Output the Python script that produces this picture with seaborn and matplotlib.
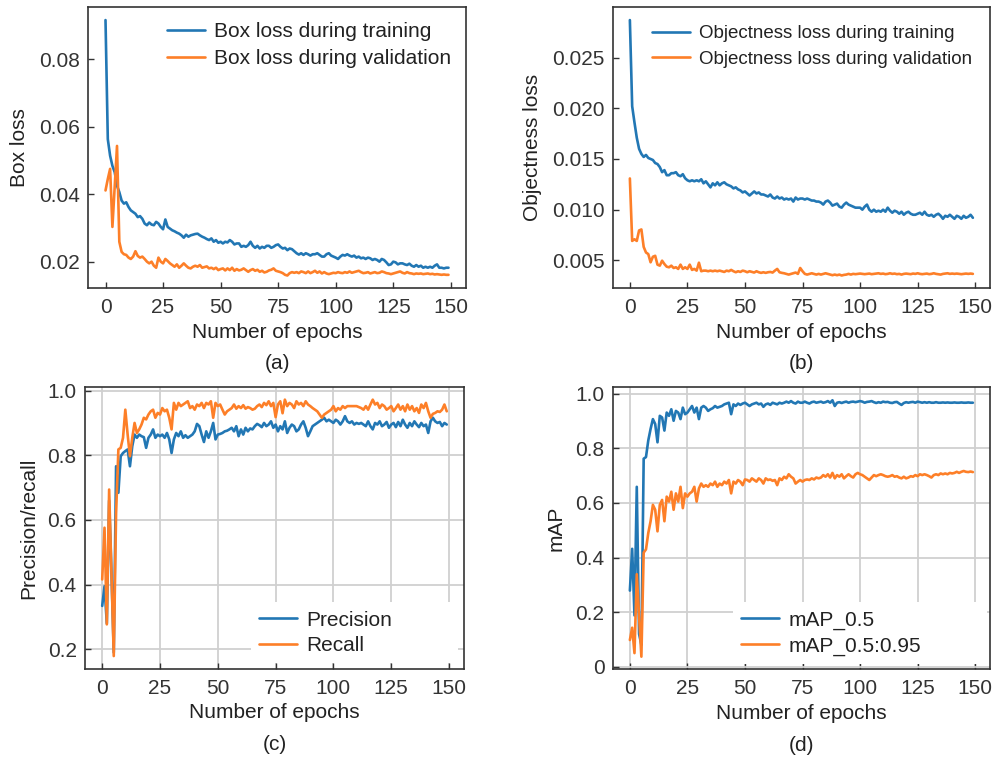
import numpy as np
import seaborn as sns
import matplotlib
matplotlib.use("Agg")
import matplotlib.pyplot as plt

# training curves (150 epochs)
epochs = np.arange(150)

box_train = [
    0.0916, 0.0563, 0.0514, 0.0484, 0.0465, 0.0425, 0.0406, 0.0381, 0.0372, 0.0376,
    0.0362, 0.0352, 0.0347, 0.0342, 0.0332, 0.0335, 0.0327, 0.0313, 0.0308, 0.0316,
    0.0310, 0.0308, 0.0318, 0.0313, 0.0303, 0.0296, 0.0325, 0.0303, 0.0298, 0.0293,
    0.0290, 0.0286, 0.0283, 0.0278, 0.0271, 0.0280, 0.0274, 0.0278, 0.0280, 0.0282,
    0.0283, 0.0278, 0.0274, 0.0271, 0.0267, 0.0264, 0.0269, 0.0259, 0.0264, 0.0256,
    0.0259, 0.0254, 0.0259, 0.0257, 0.0264, 0.0259, 0.0251, 0.0254, 0.0254, 0.0244,
    0.0247, 0.0244, 0.0249, 0.0259, 0.0247, 0.0241, 0.0247, 0.0239, 0.0244, 0.0241,
    0.0247, 0.0247, 0.0241, 0.0244, 0.0249, 0.0251, 0.0244, 0.0239, 0.0241, 0.0234,
    0.0239, 0.0237, 0.0231, 0.0225, 0.0221, 0.0225, 0.0220, 0.0225, 0.0222, 0.0218,
    0.0222, 0.0222, 0.0225, 0.0220, 0.0215, 0.0215, 0.0222, 0.0225, 0.0218, 0.0215,
    0.0212, 0.0208, 0.0215, 0.0220, 0.0218, 0.0222, 0.0218, 0.0215, 0.0218, 0.0212,
    0.0215, 0.0210, 0.0212, 0.0208, 0.0212, 0.0210, 0.0205, 0.0208, 0.0205, 0.0200,
    0.0208, 0.0205, 0.0198, 0.0190, 0.0192, 0.0200, 0.0198, 0.0192, 0.0195, 0.0195,
    0.0192, 0.0190, 0.0194, 0.0188, 0.0185, 0.0190, 0.0185, 0.0188, 0.0182, 0.0185,
    0.0182, 0.0185, 0.0182, 0.0188, 0.0192, 0.0182, 0.0182, 0.0180, 0.0182, 0.0182,
]
box_val = [
    0.0411, 0.0445, 0.0475, 0.0303, 0.0424, 0.0543, 0.0259, 0.0229, 0.0222, 0.0220,
    0.0212, 0.0208, 0.0215, 0.0231, 0.0217, 0.0212, 0.0215, 0.0208, 0.0200, 0.0195,
    0.0200, 0.0188, 0.0182, 0.0212, 0.0200, 0.0195, 0.0208, 0.0202, 0.0195, 0.0190,
    0.0185, 0.0192, 0.0182, 0.0188, 0.0195, 0.0188, 0.0182, 0.0180, 0.0185, 0.0188,
    0.0185, 0.0190, 0.0182, 0.0184, 0.0186, 0.0180, 0.0182, 0.0178, 0.0182, 0.0175,
    0.0178, 0.0180, 0.0174, 0.0180, 0.0175, 0.0182, 0.0173, 0.0178, 0.0174, 0.0176,
    0.0180, 0.0175, 0.0170, 0.0175, 0.0178, 0.0173, 0.0176, 0.0170, 0.0173, 0.0168,
    0.0170, 0.0174, 0.0176, 0.0180, 0.0173, 0.0171, 0.0169, 0.0166, 0.0161, 0.0159,
    0.0166, 0.0169, 0.0167, 0.0169, 0.0166, 0.0171, 0.0169, 0.0166, 0.0171, 0.0166,
    0.0169, 0.0173, 0.0167, 0.0171, 0.0165, 0.0169, 0.0165, 0.0163, 0.0165, 0.0167,
    0.0166, 0.0169, 0.0167, 0.0166, 0.0169, 0.0167, 0.0171, 0.0167, 0.0169, 0.0171,
    0.0173, 0.0169, 0.0166, 0.0167, 0.0169, 0.0165, 0.0167, 0.0169, 0.0166, 0.0167,
    0.0171, 0.0169, 0.0166, 0.0165, 0.0163, 0.0165, 0.0167, 0.0169, 0.0171, 0.0167,
    0.0165, 0.0169, 0.0166, 0.0165, 0.0163, 0.0165, 0.0164, 0.0165, 0.0163, 0.0164,
    0.0165, 0.0163, 0.0164, 0.0162, 0.0163, 0.0162, 0.0161, 0.0162, 0.0161, 0.0161,
]

obj_train = [
    0.0287, 0.0202, 0.0186, 0.0171, 0.0160, 0.0155, 0.0152, 0.0154, 0.0151, 0.0150,
    0.0149, 0.0146, 0.0145, 0.0142, 0.0137, 0.0139, 0.0134, 0.0134, 0.0136, 0.0136,
    0.0137, 0.0134, 0.0133, 0.0135, 0.0131, 0.0129, 0.0128, 0.0129, 0.0128, 0.0129,
    0.0128, 0.0130, 0.0126, 0.0128, 0.0125, 0.0122, 0.0126, 0.0124, 0.0127, 0.0124,
    0.0126, 0.0127, 0.0125, 0.0124, 0.0123, 0.0121, 0.0122, 0.0120, 0.0119, 0.0117,
    0.0118, 0.0116, 0.0114, 0.0116, 0.0118, 0.0116, 0.0117, 0.0115, 0.0115, 0.0114,
    0.0113, 0.0115, 0.0112, 0.0111, 0.0113, 0.0111, 0.0112, 0.0110, 0.0111, 0.0110,
    0.0111, 0.0108, 0.0112, 0.0110, 0.0111, 0.0111, 0.0110, 0.0111, 0.0110, 0.0109,
    0.0109, 0.0108, 0.0108, 0.0107, 0.0105, 0.0108, 0.0109, 0.0107, 0.0104, 0.0105,
    0.0106, 0.0103, 0.0102, 0.0105, 0.0107, 0.0105, 0.0104, 0.0103, 0.0102, 0.0102,
    0.0102, 0.0100, 0.0103, 0.0105, 0.0100, 0.0098, 0.0100, 0.0098, 0.0099, 0.0098,
    0.0100, 0.0098, 0.0102, 0.0099, 0.0097, 0.0099, 0.0098, 0.0096, 0.0098, 0.0095,
    0.0097, 0.0098, 0.0096, 0.0095, 0.0095, 0.0096, 0.0097, 0.0095, 0.0098, 0.0095,
    0.0094, 0.0095, 0.0093, 0.0095, 0.0096, 0.0094, 0.0091, 0.0094, 0.0093, 0.0095,
    0.0093, 0.0091, 0.0094, 0.0093, 0.0091, 0.0094, 0.0092, 0.0093, 0.0095, 0.0092,
]
obj_val = [
    0.01308, 0.00692, 0.00708, 0.00692, 0.00795, 0.00805, 0.00633, 0.00578, 0.00562, 0.00481,
    0.00536, 0.00545, 0.00458, 0.00448, 0.00497, 0.00464, 0.00438, 0.00432, 0.00448, 0.00425,
    0.00432, 0.00416, 0.00458, 0.00416, 0.00432, 0.00416, 0.00458, 0.00406, 0.00416, 0.00399,
    0.00477, 0.00393, 0.00399, 0.00399, 0.00393, 0.00399, 0.00393, 0.00399, 0.00393, 0.00399,
    0.00393, 0.00386, 0.00399, 0.00393, 0.00406, 0.00393, 0.00383, 0.00393, 0.00386, 0.00399,
    0.00393, 0.00383, 0.00393, 0.00386, 0.00380, 0.00393, 0.00383, 0.00377, 0.00383, 0.00377,
    0.00383, 0.00386, 0.00380, 0.00399, 0.00416, 0.00383, 0.00377, 0.00373, 0.00367, 0.00360,
    0.00367, 0.00373, 0.00380, 0.00367, 0.00425, 0.00393, 0.00367, 0.00360, 0.00367, 0.00373,
    0.00367, 0.00360, 0.00367, 0.00360, 0.00367, 0.00373, 0.00367, 0.00360, 0.00354, 0.00360,
    0.00354, 0.00360, 0.00351, 0.00357, 0.00360, 0.00367, 0.00360, 0.00367, 0.00364, 0.00367,
    0.00370, 0.00367, 0.00364, 0.00367, 0.00370, 0.00364, 0.00367, 0.00370, 0.00373, 0.00367,
    0.00370, 0.00364, 0.00367, 0.00373, 0.00367, 0.00370, 0.00364, 0.00367, 0.00360, 0.00367,
    0.00370, 0.00367, 0.00364, 0.00370, 0.00367, 0.00373, 0.00367, 0.00364, 0.00367, 0.00370,
    0.00364, 0.00367, 0.00373, 0.00367, 0.00364, 0.00360, 0.00367, 0.00370, 0.00373, 0.00367,
    0.00370, 0.00367, 0.00370, 0.00367, 0.00364, 0.00367, 0.00370, 0.00367, 0.00370, 0.00367,
]

precision = [
    0.334, 0.395, 0.280, 0.660, 0.440, 0.190, 0.766, 0.684, 0.797, 0.807,
    0.813, 0.818, 0.766, 0.828, 0.864, 0.854, 0.864, 0.859, 0.856, 0.823,
    0.854, 0.864, 0.880, 0.854, 0.864, 0.859, 0.864, 0.854, 0.869, 0.849,
    0.807, 0.849, 0.869, 0.859, 0.874, 0.854, 0.862, 0.854, 0.859, 0.864,
    0.874, 0.897, 0.890, 0.864, 0.841, 0.874, 0.854, 0.874, 0.900, 0.849,
    0.864, 0.866, 0.869, 0.874, 0.876, 0.880, 0.885, 0.874, 0.890, 0.859,
    0.880, 0.864, 0.885, 0.874, 0.883, 0.880, 0.890, 0.897, 0.893, 0.887,
    0.900, 0.890, 0.895, 0.905, 0.885, 0.895, 0.874, 0.890, 0.880, 0.905,
    0.869, 0.885, 0.895, 0.890, 0.874, 0.880, 0.895, 0.905, 0.885, 0.859,
    0.874, 0.890, 0.895, 0.900, 0.905, 0.910, 0.916, 0.905, 0.910, 0.905,
    0.900, 0.910, 0.905, 0.895, 0.905, 0.921, 0.905, 0.900, 0.905, 0.895,
    0.900, 0.897, 0.900, 0.895, 0.890, 0.905, 0.890, 0.880, 0.900, 0.895,
    0.905, 0.890, 0.895, 0.903, 0.885, 0.895, 0.900, 0.887, 0.903, 0.890,
    0.910, 0.895, 0.885, 0.900, 0.890, 0.905, 0.895, 0.887, 0.900, 0.890,
    0.895, 0.869, 0.905, 0.916, 0.905, 0.900, 0.903, 0.890, 0.900, 0.895,
]
recall = [
    0.416, 0.576, 0.277, 0.694, 0.437, 0.179, 0.620, 0.818, 0.823, 0.854,
    0.941, 0.864, 0.797, 0.854, 0.900, 0.869, 0.880, 0.895, 0.916, 0.911,
    0.926, 0.936, 0.941, 0.916, 0.931, 0.926, 0.946, 0.936, 0.941, 0.916,
    0.880, 0.962, 0.941, 0.962, 0.952, 0.957, 0.962, 0.967, 0.946, 0.952,
    0.941, 0.957, 0.952, 0.962, 0.946, 0.962, 0.957, 0.967, 0.916, 0.962,
    0.952, 0.957, 0.941, 0.926, 0.936, 0.941, 0.946, 0.957, 0.944, 0.952,
    0.946, 0.955, 0.944, 0.949, 0.946, 0.941, 0.944, 0.952, 0.957, 0.949,
    0.962, 0.955, 0.967, 0.952, 0.962, 0.918, 0.957, 0.967, 0.930, 0.972,
    0.952, 0.962, 0.957, 0.946, 0.967, 0.957, 0.962, 0.952, 0.967, 0.957,
    0.952, 0.946, 0.941, 0.936, 0.926, 0.916, 0.926, 0.931, 0.936, 0.941,
    0.952, 0.936, 0.946, 0.941, 0.952, 0.946, 0.952, 0.952, 0.952, 0.952,
    0.952, 0.949, 0.946, 0.941, 0.952, 0.941, 0.957, 0.972, 0.957, 0.962,
    0.946, 0.957, 0.952, 0.941, 0.946, 0.952, 0.936, 0.946, 0.957, 0.941,
    0.952, 0.936, 0.957, 0.941, 0.952, 0.936, 0.946, 0.931, 0.957, 0.946,
    0.962, 0.936, 0.916, 0.928, 0.931, 0.936, 0.934, 0.941, 0.957, 0.936,
]

map50 = [
    0.279, 0.432, 0.188, 0.659, 0.120, 0.080, 0.762, 0.768, 0.829, 0.871,
    0.907, 0.889, 0.822, 0.919, 0.913, 0.865, 0.931, 0.919, 0.943, 0.901,
    0.937, 0.931, 0.907, 0.949, 0.925, 0.931, 0.943, 0.955, 0.931, 0.949,
    0.907, 0.949, 0.955, 0.949, 0.937, 0.943, 0.947, 0.955, 0.949, 0.952,
    0.955, 0.961, 0.964, 0.967, 0.925, 0.961, 0.955, 0.964, 0.959, 0.964,
    0.967, 0.961, 0.955, 0.961, 0.964, 0.967, 0.961, 0.964, 0.952, 0.961,
    0.964, 0.959, 0.967, 0.964, 0.961, 0.967, 0.964, 0.967, 0.971, 0.967,
    0.973, 0.967, 0.964, 0.971, 0.967, 0.967, 0.971, 0.967, 0.964, 0.969,
    0.971, 0.967, 0.969, 0.971, 0.967, 0.969, 0.973, 0.967, 0.976, 0.955,
    0.967, 0.969, 0.966, 0.969, 0.971, 0.967, 0.970, 0.971, 0.969, 0.971,
    0.973, 0.971, 0.967, 0.970, 0.971, 0.973, 0.969, 0.966, 0.969, 0.967,
    0.971, 0.969, 0.970, 0.967, 0.966, 0.969, 0.970, 0.964, 0.959, 0.966,
    0.969, 0.967, 0.969, 0.970, 0.967, 0.971, 0.969, 0.967, 0.969, 0.967,
    0.969, 0.967, 0.967, 0.969, 0.967, 0.967, 0.968, 0.967, 0.968, 0.967,
    0.967, 0.968, 0.967, 0.967, 0.968, 0.967, 0.967, 0.968, 0.967, 0.967,
]
map50_95 = [
    0.098, 0.143, 0.050, 0.339, 0.188, 0.037, 0.418, 0.430, 0.490, 0.533,
    0.593, 0.575, 0.496, 0.593, 0.611, 0.533, 0.623, 0.605, 0.641, 0.575,
    0.635, 0.605, 0.659, 0.581, 0.635, 0.623, 0.635, 0.641, 0.659, 0.605,
    0.653, 0.671, 0.659, 0.665, 0.659, 0.671, 0.665, 0.678, 0.659, 0.671,
    0.665, 0.678, 0.671, 0.684, 0.635, 0.678, 0.671, 0.684, 0.678, 0.665,
    0.686, 0.684, 0.678, 0.690, 0.684, 0.678, 0.690, 0.684, 0.671, 0.690,
    0.684, 0.686, 0.681, 0.684, 0.665, 0.690, 0.684, 0.696, 0.690, 0.705,
    0.696, 0.690, 0.671, 0.678, 0.684, 0.678, 0.684, 0.686, 0.684, 0.690,
    0.686, 0.693, 0.690, 0.693, 0.702, 0.696, 0.705, 0.693, 0.710, 0.690,
    0.702, 0.696, 0.705, 0.690, 0.698, 0.705, 0.698, 0.693, 0.705, 0.710,
    0.705, 0.702, 0.696, 0.690, 0.684, 0.693, 0.702, 0.698, 0.702, 0.705,
    0.702, 0.698, 0.696, 0.698, 0.702, 0.696, 0.698, 0.693, 0.690, 0.696,
    0.690, 0.693, 0.698, 0.696, 0.702, 0.698, 0.705, 0.702, 0.705, 0.702,
    0.698, 0.693, 0.702, 0.705, 0.702, 0.708, 0.705, 0.708, 0.705, 0.710,
    0.708, 0.710, 0.714, 0.710, 0.714, 0.717, 0.714, 0.713, 0.715, 0.713,
]

xticks = [0, 25, 50, 75, 100, 125, 150]
map_yticks = [0, 0.2, 0.4, 0.6, 0.8, 1.0]
map_yticklabels = ["0", "0.2", "0.4", "0.6", "0.8", "1.0"]

BLUE = "#2277b4"
ORANGE = "#fd7f28"

sns.set_theme(style="ticks", rc={
    "xtick.direction": "in",
    "ytick.direction": "in",
    "xtick.major.size": 4,
    "ytick.major.size": 4,
    "xtick.major.width": 1.0,
    "ytick.major.width": 1.0,
    "xtick.major.pad": 7,
    "ytick.major.pad": 6,
    "axes.linewidth": 1.2,
    "axes.edgecolor": "#333333",
    "font.size": 15,
    "axes.labelsize": 15,
    "xtick.labelsize": 15,
    "ytick.labelsize": 15,
    "legend.fontsize": 15,
    "text.color": "#222222",
    "axes.labelcolor": "#222222",
    "xtick.color": "#333333",
    "ytick.color": "#333333",
})
plt.rcParams["font.family"] = ["Liberation Sans", "DejaVu Sans"]

fig = plt.figure(figsize=(9.95, 7.6), dpi=100)
ax_a = fig.add_axes([0.0888, 0.6207, 0.3792, 0.3697])
ax_b = fig.add_axes([0.6158, 0.6207, 0.3792, 0.3697])
ax_c = fig.add_axes([0.0854, 0.1199, 0.3809, 0.3711])
ax_d = fig.add_axes([0.6158, 0.1191, 0.3792, 0.3711])


def draw_pair(ax, y1, y2, lab1, lab2):
    sns.lineplot(x=epochs, y=y1, ax=ax, color=BLUE, lw=1.9, label=lab1)
    sns.lineplot(x=epochs, y=y2, ax=ax, color=ORANGE, lw=1.9, label=lab2)
    ax.set_xticks(xticks)
    ax.set_xlabel("Number of epochs", labelpad=4)


draw_pair(ax_a, box_train, box_val, "Box loss during training", "Box loss during validation")
ax_a.set_ylabel("Box loss", labelpad=7)
ax_a.legend(loc="upper right", frameon=False, fontsize=15, handlelength=1.8,
            handletextpad=0.45, labelspacing=0.4, borderaxespad=0.3)

draw_pair(ax_b, obj_train, obj_val, "Objectness loss during training",
          "Objectness loss during validation")
ax_b.set_ylabel("Objectness loss", labelpad=7)
ax_b.legend(loc="upper right", frameon=False, fontsize=13.5, handlelength=2.0,
            handletextpad=0.5, labelspacing=0.45, borderaxespad=0.55)

draw_pair(ax_c, precision, recall, "Precision", "Recall")
ax_c.set_ylabel("Precision/recall", labelpad=7)
ax_c.set_yticks([0.2, 0.4, 0.6, 0.8, 1.0])
ax_c.grid(True, color="#d0d0d0", lw=1.3)
ax_c.set_axisbelow(True)
ax_c.legend(loc="lower left", bbox_to_anchor=(0.438, 0.02, 0.546, 0.2), mode="expand",
            borderaxespad=0, frameon=True, fancybox=False, facecolor="white",
            edgecolor="none", framealpha=1, handlelength=1.8, handletextpad=0.45,
            labelspacing=0.3)

draw_pair(ax_d, map50, map50_95, "mAP_0.5", "mAP_0.5:0.95")
ax_d.set_ylabel("mAP", labelpad=7)
ax_d.set_yticks(map_yticks)
ax_d.set_yticklabels(map_yticklabels)
ax_d.grid(True, color="#d0d0d0", lw=1.3)
ax_d.set_axisbelow(True)
ax_d.legend(loc="lower left", bbox_to_anchor=(0.319, 0.02, 0.674, 0.2), mode="expand",
            borderaxespad=0, frameon=True, fancybox=False, facecolor="white",
            edgecolor="none", framealpha=1, handlelength=1.8, handletextpad=0.45,
            labelspacing=0.3)

for ax, tag in [(ax_a, "(a)"), (ax_b, "(b)"), (ax_c, "(c)"), (ax_d, "(d)")]:
    ax.text(0.5, -0.268, tag, transform=ax.transAxes, ha="center", va="center", fontsize=15)

fig.savefig("out.png", dpi=100)
